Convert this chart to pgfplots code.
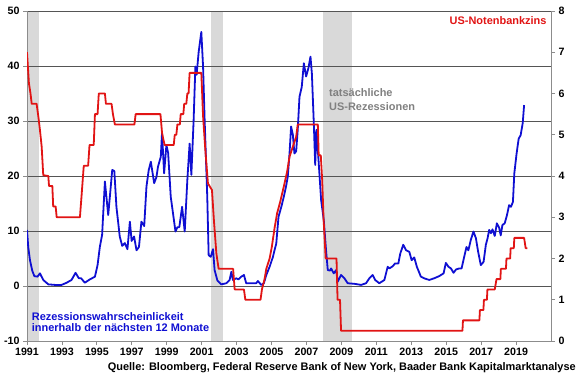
\documentclass[border=0pt]{standalone}
\usepackage{pgfplots}
\pgfplotsset{compat=1.18}
\usepackage{fontspec}
\setmainfont{Liberation Sans}
\definecolor{bl}{RGB}{15,15,210}
\definecolor{rd}{RGB}{225,20,20}
\definecolor{band}{RGB}{217,217,217}
\definecolor{gridc}{RGB}{85,85,85}
\definecolor{axc}{RGB}{140,140,140}
\definecolor{txtgray}{RGB}{128,128,128}
\begin{document}
\begin{tikzpicture}[x=1bp,y=1bp]
\useasboundingbox (-27,-34) rectangle (553,341);
\pgfplotsset{base/.style={at={(0,0)}, anchor=south west, scale only axis,
  width=524bp, height=330bp, xmin=1991, xmax=2021,
  tick label style={font=\fontsize{10.7}{12}\selectfont\bfseries},
  /pgf/number format/assume math mode=true,
  axis line style={axc, line width=0.8bp},
  tick style={axc, line width=0.8bp},
  tick align=outside, major tick length=4bp}}
% recession bands
\begin{axis}[base, ymin=-10, ymax=50, hide axis]
\addplot[fill=band, draw=none] coordinates {(1991,-10)(1991,50)(1991.69,50)(1991.69,-10)} -- cycle;
\addplot[fill=band, draw=none] coordinates {(2001.55,-10)(2001.55,50)(2002.24,50)(2002.24,-10)} -- cycle;
\addplot[fill=band, draw=none] coordinates {(2007.95,-10)(2007.95,50)(2009.63,50)(2009.63,-10)} -- cycle;
\end{axis}
% recession probability
\begin{axis}[base, ymin=-10, ymax=50, ytick={-10,0,...,50},
  xtick={1991,1993,...,2019},
  x tick label style={/pgf/number format/1000 sep={}},
  axis x line*=bottom, axis y line*=left,
  ymajorgrids, grid style={gridc, line width=0.8bp}]
\addplot[bl, line width=1.8bp, line join=round] table {
1991.00 10.2
1991.07 7.1
1991.17 4.7
1991.30 2.8
1991.42 1.8
1991.60 1.7
1991.74 2.3
1991.93 1.1
1992.22 0.3
1992.60 0.2
1992.98 0.2
1993.27 0.6
1993.55 1.1
1993.78 2.4
1993.97 1.4
1994.10 1.4
1994.31 0.6
1994.60 1.2
1994.89 1.7
1995.04 3.8
1995.17 7.1
1995.30 9.3
1995.46 19.0
1995.65 12.9
1995.88 21.1
1996.00 20.9
1996.12 14.4
1996.31 9.0
1996.45 7.3
1996.60 7.8
1996.75 6.7
1996.89 11.7
1996.99 8.2
1997.13 9.0
1997.27 6.5
1997.41 7.1
1997.55 11.7
1997.71 10.9
1997.84 18.1
1997.97 21.1
1998.09 22.6
1998.28 18.7
1998.41 19.8
1998.50 21.7
1998.66 23.5
1998.73 27.8
1998.85 20.5
1998.98 25.6
1999.08 24.2
1999.23 16.2
1999.36 13.2
1999.50 9.9
1999.61 10.7
1999.72 10.7
1999.88 14.4
2000.03 9.9
2000.18 19.3
2000.31 25.9
2000.41 20.2
2000.54 30.2
2000.64 39.9
2000.71 38.4
2000.83 42.6
2000.98 46.2
2001.08 39.9
2001.17 30.2
2001.32 16.2
2001.40 5.6
2001.52 5.3
2001.65 6.7
2001.74 2.9
2001.90 1.0
2002.12 0.3
2002.41 0.5
2002.60 1.1
2002.70 2.6
2002.79 1.1
2002.98 1.4
2003.11 1.2
2003.27 1.7
2003.42 2.0
2003.55 0.5
2003.84 0.5
2004.12 0.5
2004.22 0.9
2004.41 0.2
2004.56 0.5
2004.70 2.0
2004.89 3.5
2005.08 5.3
2005.17 6.5
2005.27 7.7
2005.40 12.6
2005.56 14.4
2005.70 16.2
2005.83 18.1
2005.93 19.9
2006.03 24.1
2006.12 29.0
2006.22 27.5
2006.31 24.1
2006.41 24.5
2006.50 28.4
2006.60 34.4
2006.73 36.2
2006.85 40.5
2006.98 38.1
2007.11 39.6
2007.23 41.7
2007.31 38.6
2007.42 29.6
2007.50 22.0
2007.57 28.4
2007.69 22.9
2007.84 15.6
2007.99 12.0
2008.12 6.5
2008.22 2.9
2008.36 2.8
2008.41 3.2
2008.56 2.3
2008.70 2.9
2008.79 0.8
2008.98 2.0
2009.17 1.4
2009.36 0.5
2009.74 0.4
2010.13 0.2
2010.41 0.5
2010.60 1.4
2010.79 2.0
2010.93 1.1
2011.17 0.5
2011.46 1.1
2011.65 3.5
2011.75 3.2
2011.94 3.6
2012.07 4.1
2012.26 4.1
2012.37 5.9
2012.54 7.5
2012.70 6.5
2012.89 6.2
2013.02 4.7
2013.17 5.2
2013.32 3.5
2013.55 1.7
2013.74 1.4
2014.03 1.1
2014.31 1.4
2014.60 1.8
2014.85 2.3
2014.98 4.2
2015.13 3.5
2015.27 3.2
2015.42 2.4
2015.56 3.0
2015.75 3.2
2015.88 3.2
2016.03 5.3
2016.16 7.1
2016.27 6.5
2016.41 8.4
2016.56 9.9
2016.70 8.7
2016.83 6.2
2016.98 3.8
2017.14 4.4
2017.27 7.5
2017.37 8.7
2017.46 10.2
2017.56 9.6
2017.65 10.3
2017.78 9.1
2017.90 11.4
2018.03 10.6
2018.12 9.2
2018.22 11.1
2018.35 11.4
2018.48 12.9
2018.60 14.7
2018.71 14.4
2018.82 15.3
2018.90 20.5
2019.03 24.1
2019.15 26.8
2019.26 27.4
2019.38 29.6
2019.46 32.9
};
\end{axis}
% fed funds rate
\begin{axis}[base, ymin=0, ymax=8, ytick={0,...,8},
  axis x line=none, axis y line*=right]
\addplot[rd, line width=1.8bp, line join=round] table {
1991.00 7.0
1991.11 6.25
1991.20 6.0
1991.27 5.75
1991.55 5.75
1991.65 5.44
1991.74 5.12
1991.84 4.71
1991.93 4.02
1992.22 4.0
1992.26 3.76
1992.45 3.76
1992.50 3.26
1992.64 3.26
1992.70 3.0
1994.03 3.0
1994.12 3.5
1994.25 4.25
1994.50 4.25
1994.58 4.75
1994.82 4.75
1994.89 5.5
1995.04 5.5
1995.11 6.0
1995.46 6.0
1995.52 5.75
1995.84 5.75
1995.92 5.5
1996.03 5.25
1997.15 5.25
1997.22 5.5
1998.64 5.5
1998.73 5.05
1998.80 4.9
1998.88 4.75
1999.40 4.75
1999.46 5.0
1999.55 5.0
1999.61 5.25
1999.75 5.25
1999.80 5.5
1999.95 5.5
2000.00 5.75
2000.12 5.75
2000.18 6.0
2000.25 6.0
2000.31 6.5
2000.98 6.5
2001.08 5.45
2001.21 4.63
2001.36 3.82
2001.59 3.66
2001.70 2.93
2001.84 2.13
2001.97 1.75
2002.80 1.75
2002.89 1.25
2003.42 1.25
2003.50 1.0
2004.37 1.0
2004.45 1.25
2004.60 1.5
2004.70 1.75
2004.89 2.0
2005.02 2.29
2005.17 2.73
2005.32 3.1
2005.50 3.38
2005.70 3.74
2005.89 4.1
2006.03 4.47
2006.22 4.71
2006.41 4.95
2006.50 5.25
2007.65 5.25
2007.70 4.5
2007.82 4.5
2007.90 3.9
2007.98 2.95
2008.10 2.0
2008.72 2.0
2008.78 1.0
2008.92 1.0
2008.98 0.25
2015.93 0.25
2015.96 0.5
2016.90 0.5
2016.93 0.75
2017.13 0.75
2017.16 1.0
2017.33 1.0
2017.36 1.25
2017.78 1.25
2017.88 1.5
2018.10 1.5
2018.13 1.75
2018.42 1.75
2018.45 2.0
2018.66 2.0
2018.69 2.25
2018.87 2.25
2018.90 2.5
2019.46 2.5
2019.55 2.25
2019.65 2.25
};
\end{axis}
\begin{scope}[font=\fontsize{11}{12}\selectfont\bfseries]
\node[rd, anchor=base east, inner sep=0] at (519.7,316.7) {US-Notenbankzins};
\node[txtgray, anchor=base west, inner sep=0] at (302,244.3) {tatsächliche};
\node[txtgray, anchor=base west, inner sep=0] at (302,231) {US-Rezessionen};
\node[bl, anchor=base west, inner sep=0] at (4.7,20.3) {Rezessionswahrscheinlickeit};
\node[bl, anchor=base west, inner sep=0] at (4.7,9.3) {innerhalb der nächsten 12 Monate};
\node[black, anchor=base east, inner sep=0] at (549,-29) {Quelle: Bloomberg, Federal Reserve Bank of New York, Baader Bank Kapitalmarktanalyse};
\end{scope}
\end{tikzpicture}
\end{document}
